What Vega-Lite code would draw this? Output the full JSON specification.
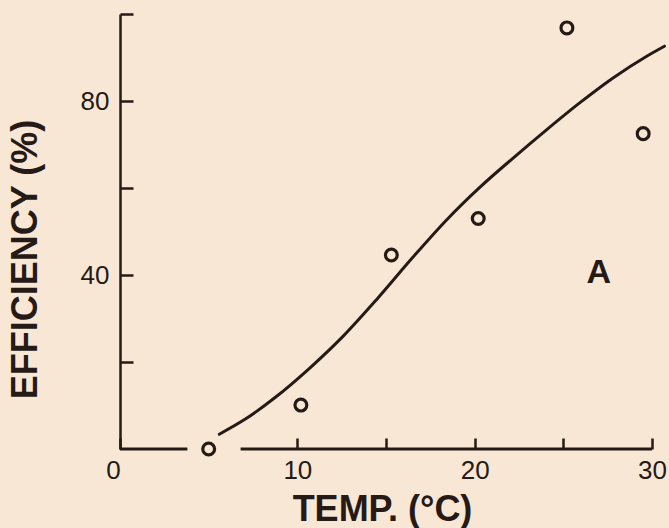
{
  "$schema": "https://vega.github.io/schema/vega-lite/v6.json",
  "width": 548,
  "height": 435,
  "autosize": "none",
  "padding": {"left": 120, "top": 14, "right": 1, "bottom": 79},
  "background": "#F8E7D5",
  "config": {"view": {"stroke": null}, "font": "Liberation Sans"},
  "datasets": {
    "points": [
      {"temp": 5, "eff": 0},
      {"temp": 10.2, "eff": 10.1},
      {"temp": 15.3, "eff": 44.6},
      {"temp": 20.2, "eff": 53},
      {"temp": 25.2, "eff": 96.8},
      {"temp": 29.5, "eff": 72.5}
    ],
    "curve": [
      {"temp": 5.6, "eff": 3.4},
      {"temp": 7.0, "eff": 6.7},
      {"temp": 8.8, "eff": 12.0},
      {"temp": 10.7, "eff": 18.6},
      {"temp": 12.6, "eff": 26.0},
      {"temp": 14.5, "eff": 34.5},
      {"temp": 16.5, "eff": 44.0},
      {"temp": 18.4, "eff": 52.6},
      {"temp": 20.3, "eff": 60.2},
      {"temp": 22.2, "eff": 67.0},
      {"temp": 24.0, "eff": 73.2},
      {"temp": 25.9, "eff": 79.5},
      {"temp": 27.8, "eff": 85.3},
      {"temp": 29.7, "eff": 90.3},
      {"temp": 30.7, "eff": 92.6}
    ],
    "axisline": [
      {"temp": 0, "temp2": 3.8, "eff": 0},
      {"temp": 6.8, "temp2": 30, "eff": 0}
    ],
    "labels": [{"temp": 27, "eff": 40.4, "text": "A"}]
  },
  "layer": [
    {
      "data": {"name": "axisline"},
      "mark": {"type": "rule", "strokeWidth": 3, "color": "#261a16", "strokeCap": "butt"},
      "encoding": {
        "x": {
          "field": "temp", "type": "quantitative",
          "scale": {"domain": [0, 30.9], "nice": false, "zero": false},
          "axis": {
            "title": "TEMP. (°C)",
            "values": [0, 10, 15, 20, 25, 30],
            "labelExpr": "datum.value % 10 == 0 ? datum.label : ''",
            "domain": false,
            "grid": false,
            "labelFlush": false,
            "labelOverlap": false,
            "tickSize": -11,
            "tickWidth": 2.5,
            "tickColor": "#261a16",
            "labelFont": "Liberation Sans",
            "labelFontSize": 26,
            "labelColor": "#261a16",
            "labelPadding": 19,
            "labelOffset": {"condition": {"test": "datum.value == 0", "value": -7}, "value": 0},
            "titleFont": "Liberation Sans",
            "titleFontSize": 36,
            "titleFontWeight": "bold",
            "titleColor": "#261a16",
            "titleX": 262,
            "titlePadding": 9
          }
        },
        "x2": {"field": "temp2"},
        "y": {
          "field": "eff", "type": "quantitative",
          "scale": {"domain": [0, 100], "nice": false},
          "axis": {
            "title": "EFFICIENCY (%)",
            "values": [20, 40, 60, 80, 100],
            "labelExpr": "datum.value == 40 || datum.value == 80 ? datum.label : ''",
            "domain": true,
            "domainWidth": 2.5,
            "domainColor": "#261a16",
            "grid": false,
            "labelOverlap": false,
            "tickSize": -13,
            "tickWidth": 2.5,
            "tickColor": "#261a16",
            "labelFont": "Liberation Sans",
            "labelFontSize": 26,
            "labelColor": "#261a16",
            "labelPadding": 24,
            "titleFont": "Liberation Sans",
            "titleFontSize": 36,
            "titleFontWeight": "bold",
            "titleColor": "#261a16",
            "titleY": 245,
            "titlePadding": 36
          }
        }
      }
    },
    {
      "data": {"name": "curve"},
      "mark": {"type": "line", "interpolate": "monotone", "strokeWidth": 3, "color": "#261a16", "strokeCap": "round"},
      "encoding": {
        "x": {"field": "temp", "type": "quantitative"},
        "y": {"field": "eff", "type": "quantitative"}
      }
    },
    {
      "data": {"name": "points"},
      "mark": {"type": "point", "shape": "circle", "filled": false, "size": 140, "strokeWidth": 3.2, "color": "#261a16", "opacity": 1},
      "encoding": {
        "x": {"field": "temp", "type": "quantitative"},
        "y": {"field": "eff", "type": "quantitative"}
      }
    },
    {
      "data": {"name": "labels"},
      "mark": {"type": "text", "font": "Liberation Sans", "fontSize": 34, "fontWeight": "bold", "color": "#261a16", "align": "center", "baseline": "middle"},
      "encoding": {
        "x": {"field": "temp", "type": "quantitative"},
        "y": {"field": "eff", "type": "quantitative"},
        "text": {"field": "text"}
      }
    }
  ]
}
